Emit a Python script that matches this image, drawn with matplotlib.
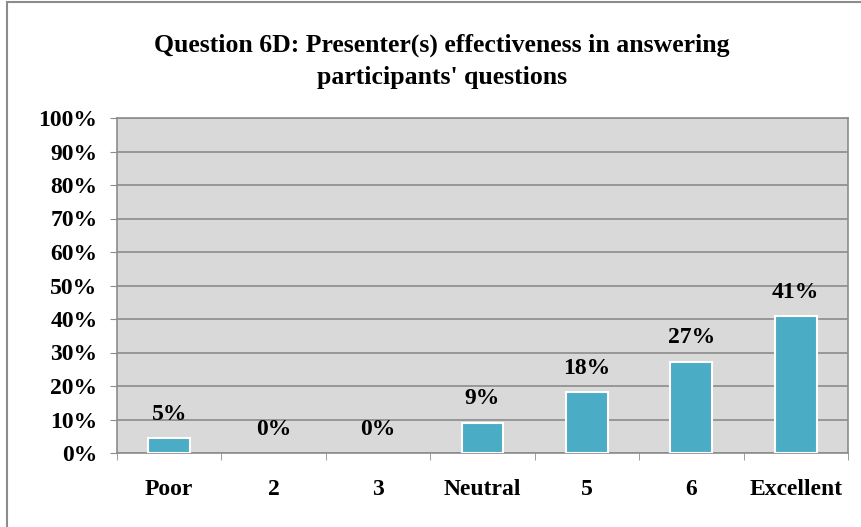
import matplotlib.pyplot as plt
from matplotlib.patches import Rectangle
import numpy as np

categories = ['Poor', '2', '3', 'Neutral', '5', '6', 'Excellent']
percents = [4.5, 0, 0, 9.1, 18.2, 27.3, 40.9]
yticks = list(range(0, 101, 10))

plt.rcParams['font.family'] = ['Liberation Serif', 'DejaVu Serif']
plt.rcParams['font.weight'] = 'bold'

fig = plt.figure(figsize=(8.62, 5.27), dpi=100)
ax = fig.add_axes([117 / 862, 74 / 527, 731 / 862, 335 / 527])

# outer chart border
fig.patches.append(Rectangle((7 / 862, -0.1), 2.0, 1.1 - 2 / 527, transform=fig.transFigure,
                             fill=False, edgecolor='#8c8c8c', linewidth=1.5))

x = np.arange(len(categories))
ax.set_facecolor('#d9d9d9')
edge_w = [1.5 if v > 0 else 0 for v in percents]
ax.bar(x, percents, width=0.4, color='#4bacc6', edgecolor='white', linewidth=edge_w, zorder=3)

for xi, v in zip(x, percents):
    ax.annotate(f'{int(v + 0.5)}%', (xi, v), xytext=(0, 17), textcoords='offset points',
                ha='center', va='center', fontsize=17, fontweight='bold', zorder=4)

ax.set_xlim(-0.5, len(categories) - 0.5)
ax.set_ylim(0, 100)
ax.set_yticks(yticks)
ax.set_yticklabels([f'{t}%' for t in yticks], fontsize=17, fontweight='bold')
ax.set_xticks(x)
ax.set_xticklabels(categories, fontsize=17, fontweight='bold')
ax.set_xticks(np.arange(-0.5, len(categories), 1), minor=True)
ax.tick_params(axis='x', which='major', length=0, pad=19)
ax.tick_params(axis='x', which='minor', length=5, color='#8c8c8c', direction='out')
ax.tick_params(axis='y', length=5, color='#8c8c8c', pad=9)
ax.yaxis.grid(True, color='#8c8c8c', linewidth=1.2, zorder=0)
ax.set_axisbelow(True)
for s in ax.spines.values():
    s.set_color('#8c8c8c')
    s.set_linewidth(1.2)

fig.text(0.513, 0.883, "Question 6D: Presenter(s) effectiveness in answering\nparticipants' questions",
         ha='center', va='center', fontsize=18.5, fontweight='bold', linespacing=1.5)

fig.savefig('out.png', dpi=100)
